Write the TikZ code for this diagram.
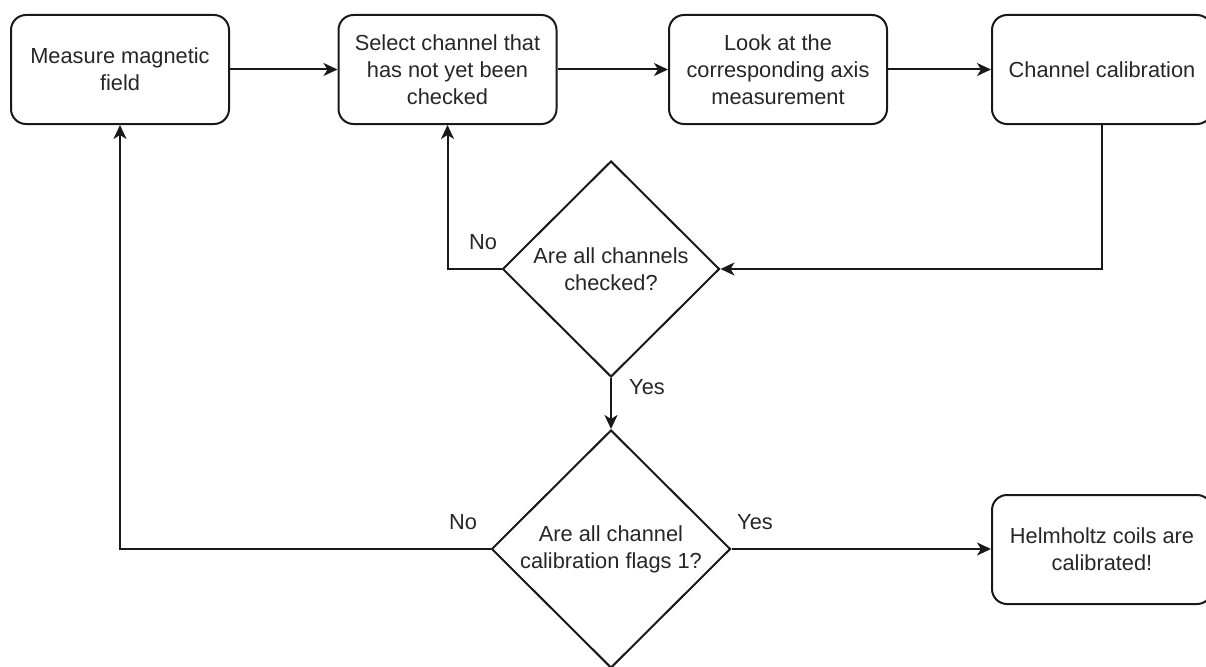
\documentclass[tikz,border=0pt]{standalone}
\usepackage{fontspec}
\setmainfont{Liberation Sans}
\usetikzlibrary{shapes.geometric,arrows.meta}
\begin{document}
\begin{tikzpicture}[x=1pt,y=-1pt,
  every node/.style={font=\fontsize{21.8pt}{27pt}\selectfont, text=black!85},
  box/.style={draw=black!90, line width=2pt, rounded corners=15pt, minimum width=218pt, minimum height=109pt, inner sep=0pt, align=center},
  dec/.style={draw=black!90, line width=2pt, diamond, inner sep=0pt, align=center},
  conn/.style={draw=black!90, line width=2pt, -{Stealth[length=14pt,width=13pt,inset=4pt]}},
  lbl/.style={inner sep=0pt}]
\useasboundingbox (0,0) rectangle (1206,666);
\node[box] (b1) at (120,69.5) {Measure magnetic\\field};
\node[box] (b2) at (447.5,69.5) {Select channel that\\has not yet been\\checked};
\node[box] (b3) at (778,69.5) {Look at the\\corresponding axis\\measurement};
\node[box, minimum width=220pt] (b4) at (1102,69.5) {Channel calibration};
\node[dec, minimum width=217pt, minimum height=216pt] (d1) at (611,269) {Are all channels\\checked?};
\node[dec, minimum width=239pt, minimum height=238pt] (d2) at (611,549) {Are all channel\\calibration flags 1?};
\node[box, minimum width=220pt] (b5) at (1102,549.5) {Helmholtz coils are\\calibrated!};
\draw[conn] (b1.east) -- (b2.west);
\draw[conn] (b2.east) -- (b3.west);
\draw[conn] (b3.east) -- (b4.west);
\draw[conn] (b4.south) |- (d1.east);
\draw[conn] (d1.west) -| (b2.south);
\draw[conn] (d1.south) -- (d2.north);
\draw[conn] (d2.west) -| (b1.south);
\draw[conn] (d2.east) -- (b5.west |- d2.east);
\node[lbl] (l1) at (483,242) {No};
\node[lbl] (l2) at (647,387) {Yes};
\node[lbl] (l3) at (463,522) {No};
\node[lbl] (l4) at (755,522) {Yes};
\end{tikzpicture}
\end{document}
